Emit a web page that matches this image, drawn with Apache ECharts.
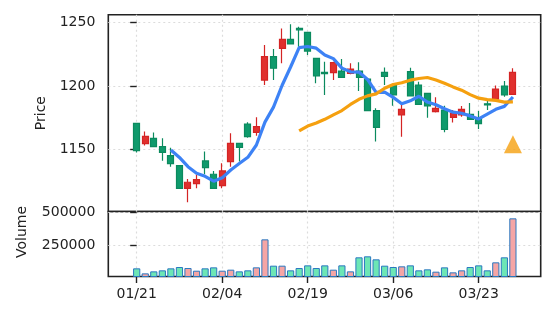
<!DOCTYPE html>
<html>
<head>
<meta charset="utf-8">
<script src="https://cdn.jsdelivr.net/npm/echarts@6/dist/echarts.min.js"></script>
<style>html,body{margin:0;padding:0;background:#fff}#c{width:556px;height:322px}</style>
</head>
<body>
<div id="c"></div>
<script>
const dates = ['01/21','01/22','01/23','01/24','01/27','01/28','01/29','01/30','01/31','02/03',
  '02/04','02/05','02/06','02/07','02/10','02/11','02/12','02/13','02/14','02/18',
  '02/19','02/20','02/21','02/24','02/25','02/26','02/27','03/02','03/03','03/05',
  '03/06','03/09','03/10','03/11','03/12','03/13','03/16','03/17','03/18','03/19',
  '03/23','03/24','03/25','03/26','03/27'];
const tickIdx = [0, 10, 20, 30, 40];
const priceTicks = [1150, 1200, 1250];
const volTicks = [250000, 500000];
const open  = [1170.5,1154.5,1158.7,1152.1,1145.0,1137.1,1119.2,1122.9,1140.8,1130.3,
  1121.3,1140.3,1154.7,1170.0,1163.4,1204.7,1223.2,1229.7,1236.8,1245.5,
  1242.4,1221.8,1210.8,1210.5,1211.8,1210.0,1211.8,1205.5,1180.5,1210.8,
  1200.3,1177.1,1211.3,1200.8,1194.2,1179.7,1181.0,1175.3,1177.1,1177.6,
  1174.5,1186.0,1189.7,1200.0,1193.4];
const close = [1149.0,1160.3,1152.1,1147.6,1138.7,1119.2,1124.0,1126.0,1135.5,1119.2,
  1132.9,1154.7,1151.6,1160.0,1167.9,1223.2,1214.0,1236.8,1233.2,1244.2,
  1227.6,1207.9,1209.7,1218.4,1206.8,1213.4,1206.8,1180.5,1167.4,1207.6,
  1192.9,1181.6,1192.1,1185.5,1184.2,1182.4,1165.8,1178.4,1181.6,1173.7,
  1170.3,1185.0,1197.6,1192.9,1210.8];
const low   = [1147.5,1153.0,1152.0,1141.0,1136.3,1119.0,1108.2,1119.2,1130.3,1119.0,
  1119.2,1136.3,1140.3,1159.2,1160.8,1200.8,1204.7,1217.9,1233.0,1231.0,
  1224.5,1202.1,1192.9,1204.7,1206.8,1209.2,1196.0,1180.0,1156.1,1200.8,
  1184.5,1160.0,1192.0,1185.5,1175.0,1179.0,1163.4,1171.1,1175.8,1173.7,
  1166.1,1181.1,1189.7,1191.6,1193.0];
const high  = [1171.0,1164.0,1163.2,1158.7,1151.3,1137.5,1126.6,1129.8,1148.2,1132.9,
  1139.0,1162.6,1154.8,1171.3,1175.3,1232.4,1229.2,1245.5,1248.7,1246.8,
  1242.4,1221.8,1219.2,1219.2,1221.3,1217.9,1218.7,1205.5,1182.4,1214.7,
  1200.8,1185.5,1214.5,1203.4,1194.2,1191.1,1184.5,1181.0,1184.2,1186.5,
  1180.3,1189.0,1200.3,1204.0,1214.0];
const volume = [80600,43000,58000,65600,80600,90600,83000,63000,80600,88000,
  63000,70600,58000,65600,88000,297600,100500,100500,65600,83000,
  103000,83000,103000,70600,103000,58000,163000,170500,148000,100500,
  90600,95600,103000,65600,73100,55600,88000,50600,65600,90600,
  103000,65600,125500,163000,454800];
const ma5Start = 4;
const ma5 = [1149.5,1143.6,1136.3,1131.1,1128.7,1124.8,1127.5,1133.7,1138.8,1143.7,
  1153.4,1171.5,1183.3,1200.4,1215.0,1230.3,1231.2,1229.9,1224.5,1221.6,
  1214.1,1211.2,1211.0,1205.2,1195.0,1195.1,1191.0,1186.0,1188.3,1191.9,
  1187.3,1185.2,1182.0,1179.3,1178.5,1176.4,1174.0,1177.8,1181.6,1183.9,1191.3];
const ma20Start = 19;
const ma20 = [1164.5,1168.4,1170.8,1173.7,1177.2,1180.6,1185.4,1189.5,1192.2,1193.8,
  1198.2,1201.2,1202.6,1204.6,1205.9,1206.7,1204.7,1202.2,1199.3,1196.7,
  1193.2,1190.4,1189.2,1188.6,1187.3,1187.5];
const signalIdx = [44];
const signalPrice = [1154];

const UP = '#e0302e', UPB = '#d42424', DN = '#0f9a6c', DNB = '#0b8a5e';
const candleData = open.map((o, i) => [i, o, close[i], low[i], high[i]]);
const volData = volume.map((v, i) => ({
  value: [i, v],
  itemStyle: { color: close[i] >= open[i] ? '#f5a5a5' : '#6de6b5' }
}));
const ma5Data = ma5.map((v, k) => [ma5Start + k, v]);
const ma20Data = ma20.map((v, k) => [ma20Start + k, v]);
const sigData = signalIdx.map((i, k) => [i, signalPrice[k]]);

const FONT = 'DejaVu Sans';
const txt = { color: '#222', fontFamily: FONT, fontSize: 14 };
const plain = v => String(Math.round(v));
const dotted = { show: true, lineStyle: { color: '#dcdcdc', type: [2, 3], width: 1.2 } };
const L = 108.3, W = 432.4;
const chart = echarts.init(document.getElementById('c'), null, { renderer: 'canvas' });
chart.setOption({
  animation: false,
  backgroundColor: '#fff',
  grid: [
    { left: L, top: 14.7, width: W, height: 196.8, show: true, borderColor: '#222', borderWidth: 1.6, backgroundColor: 'transparent' },
    { left: L, top: 211.5, width: W, height: 65, show: true, borderColor: '#222', borderWidth: 1.6, backgroundColor: 'transparent' }
  ],
  xAxis: [
    { type: 'value', gridIndex: 0, min: -3.32, max: 47.25,
      axisLine: { show: false }, axisTick: { show: false, customValues: tickIdx },
      axisLabel: { show: false, customValues: tickIdx }, splitLine: dotted },
    { type: 'value', gridIndex: 1, min: -3.32, max: 47.25,
      axisLine: { show: false },
      axisTick: { show: true, customValues: tickIdx, length: 6.5, lineStyle: { color: '#222', width: 1.4 } },
      axisLabel: Object.assign({ customValues: tickIdx, margin: 11, formatter: v => dates[Math.round(v)] }, txt),
      splitLine: dotted }
  ],
  yAxis: [
    { type: 'value', gridIndex: 0, min: 1100.9, max: 1256.3,
      name: 'Price', nameLocation: 'middle', nameGap: 58, nameTextStyle: txt,
      axisLine: { show: false },
      axisTick: { show: true, customValues: priceTicks, length: 6.5, lineStyle: { color: '#222', width: 1.4 } },
      axisLabel: Object.assign({ customValues: priceTicks, margin: 13, formatter: plain }, txt),
      splitLine: dotted },
    { type: 'value', gridIndex: 1, min: 19500, max: 506000,
      name: 'Volume', nameLocation: 'middle', nameGap: 79,
      nameTextStyle: Object.assign({ padding: [0, 0, 0, 24] }, txt),
      axisLine: { show: false },
      axisTick: { show: true, customValues: volTicks, length: 6.5, lineStyle: { color: '#222', width: 1.4 } },
      axisLabel: Object.assign({ customValues: volTicks, margin: 13, formatter: plain }, txt),
      splitLine: dotted }
  ],
  series: [
    { type: 'candlestick', xAxisIndex: 0, yAxisIndex: 0, data: candleData,
      encode: { x: 0, y: [1, 2, 3, 4] }, barWidth: 6.5,
      itemStyle: { color: UP, color0: DN, borderColor: UPB, borderColor0: DNB, borderWidth: 1.2 } },
    { type: 'line', xAxisIndex: 0, yAxisIndex: 0, data: ma5Data, showSymbol: false,
      lineStyle: { color: '#3d82f5', width: 3.2 }, z: 5 },
    { type: 'line', xAxisIndex: 0, yAxisIndex: 0, data: ma20Data, showSymbol: false,
      lineStyle: { color: '#f5a00f', width: 3.2 }, z: 5 },
    { type: 'scatter', xAxisIndex: 0, yAxisIndex: 0, data: sigData, symbol: 'triangle',
      symbolSize: 18, itemStyle: { color: '#f5a00f' }, z: 6 },
    { type: 'bar', xAxisIndex: 1, yAxisIndex: 1, data: volData, barWidth: 7.2,
      itemStyle: { borderColor: '#2a78c0', borderWidth: 1 } }
  ]
});
</script>
</body>
</html>
